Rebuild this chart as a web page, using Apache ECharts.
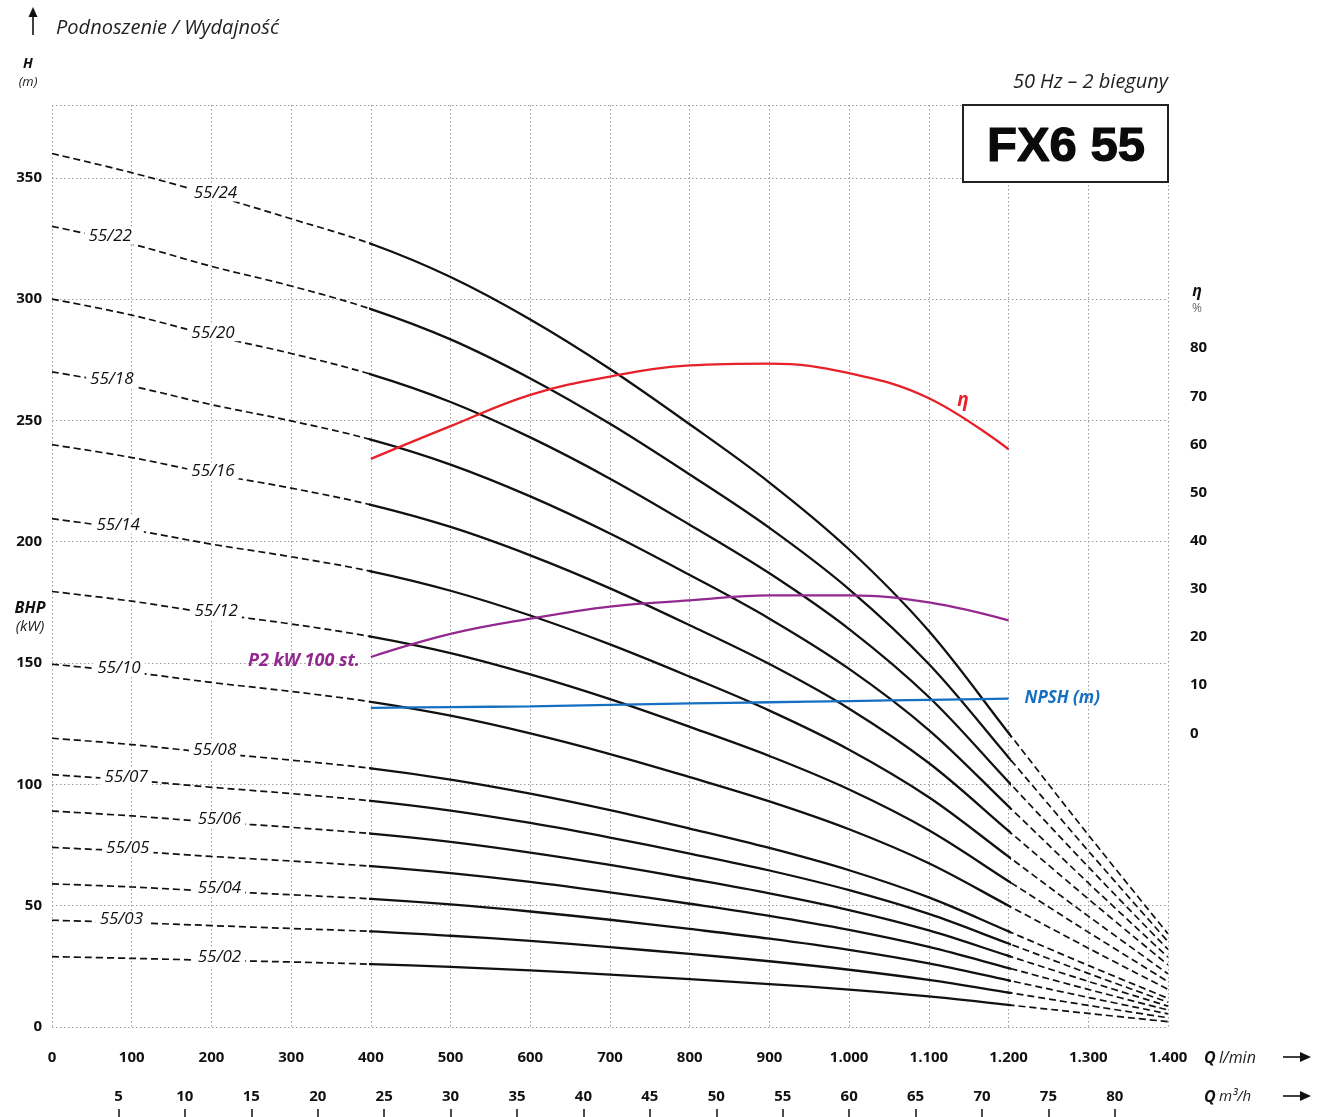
<!DOCTYPE html>
<html><head><meta charset="utf-8">
<script src="https://cdn.jsdelivr.net/npm/echarts@6/dist/echarts.min.js"></script>
<style>html,body{margin:0;padding:0;background:#fff}#c{width:1320px;height:1117px}</style>
</head><body><div id="c"></div>
<script>
// ---- DATA ----
const flowLmin = [0,100,200,300,400,500,600,700,800,900,1000,1100,1200,1300,1400];
const models = ['55/02','55/03','55/04','55/05','55/06','55/07','55/08','55/10','55/12','55/14','55/16','55/18','55/20','55/22','55/24'];
const head_55_02 = [29,28.3,27.5,26.8,25.9,24.8,23.3,21.6,19.7,17.7,15.4,12.6,9.1,5.6,2.2];
const head_55_03 = [44,43,41.8,40.6,39.4,37.6,35.5,32.9,30.1,27.1,23.6,19.4,14.2,8.9,3.8];
const head_55_04 = [59,57.7,56,54.5,52.8,50.5,47.6,44.2,40.4,36.4,31.8,26.2,19.2,12.2,5.4];
const head_55_05 = [74,72.4,70.3,68.4,66.3,63.4,59.8,55.5,50.8,45.8,40,33,24.3,15.5,7];
const head_55_06 = [89,87,84.5,82.3,79.7,76.3,71.9,66.8,61.1,55.1,48.2,39.8,29.3,18.8,8.6];
const head_55_07 = [104,101.7,98.8,96.2,93.2,89.2,84.1,78.1,71.5,64.5,56.4,46.6,34.4,22.1,10.2];
const head_55_08 = [119,116.4,113,110,106.6,102,96.2,89.4,81.8,73.8,64.6,53.4,39.4,25.4,11.8];
const head_55_10 = [149.5,146.2,142,138.3,134,128.3,121,112.5,103,93,81.5,67.5,50,32.5,15.5];
const head_55_12 = [179.5,175.5,170.5,166.1,160.9,154.1,145.3,135.1,123.7,111.7,97.9,81.1,60.1,39.1,18.7];
const head_55_14 = [209.5,204.9,199,193.8,187.8,179.8,169.6,157.7,144.4,130.4,114.3,94.7,70.2,45.7,21.9];
const head_55_16 = [240,234.7,228,222.1,215.2,206.1,194.4,180.8,165.6,149.6,131.2,108.8,80.8,52.8,25.6];
const head_55_18 = [270,264.1,256.5,249.8,242.1,231.8,218.7,203.4,186.3,168.3,147.6,122.4,90.9,59.4,28.8];
const head_55_20 = [300,293.4,285,277.6,269,257.6,243,226,207,187,164,136,101,66,32];
const head_55_22 = [330,322.7,313.5,305.4,295.9,283.4,267.3,248.6,227.7,205.7,180.4,149.6,111.1,72.6,35.2];
const head_55_24 = [360,352.1,343,333.1,322.8,309.1,291.6,271.2,248.4,224.4,196.8,163.2,121.2,79.2,38.4];
const heads = [head_55_02,head_55_03,head_55_04,head_55_05,head_55_06,head_55_07,head_55_08,head_55_10,head_55_12,head_55_14,head_55_16,head_55_18,head_55_20,head_55_22,head_55_24];
const labelQ = [210,87,210,95,210,93,204,84,206,83,202,75,202,73,205];

// operating range (solid part of each curve)
const rangeLmin = [0, 400, 1200, 1400];

const effQ   = [400,500,600,700,800,900,1000,1100,1200];
const effPct = [57,63.8,70.3,74.1,76.4,76.8,74.8,69.6,59];
const p2Q    = [400,500,600,700,800,900,1000,1100,1200];
const p2kW   = [152.5,162,168.3,173.3,175.8,177.9,177.9,175,167.6];
const npshQ  = [400,500,600,700,800,900,1000,1100,1200];
const npshM  = [5.3,5.45,5.6,5.9,6.2,6.45,6.7,6.95,7.2];

const m3hTicks = [5,10,15,20,25,30,35,40,45,50,55,60,65,70,75,80];
const etaTicks = [0,10,20,30,40,50,60,70,80];

// ---- BUILD ----
const FONT = '"Open Sans", "Noto Sans", sans-serif';
const G_LEFT = 52, G_RIGHT = 152, G_TOP = 105, G_BOTTOM = 90, W = 1320;
const plotW = W - G_LEFT - G_RIGHT;
const xMin = rangeLmin[0], xMax = rangeLmin[3];
const px = q => G_LEFT + (q - xMin) / (xMax - xMin) * plotW;

const grids = [{left:G_LEFT, right:G_RIGHT, top:G_TOP, bottom:G_BOTTOM}];
for (let s=0; s<3; s++){
  grids.push({left:px(rangeLmin[s]), width:px(rangeLmin[s+1])-px(rangeLmin[s]), top:G_TOP, bottom:G_BOTTOM});
}
const dashStyle = {color:'#111', width:1.7, type:[7,4]};
const solidStyle = {color:'#111', width:2.3};
const segLine = [dashStyle, solidStyle, dashStyle];

const series = [];
heads.forEach((h) => {
  const pts = flowLmin.map((q,i)=>[q,h[i]]);
  for (let s=0; s<3; s++){
    series.push({type:'line', xAxisIndex:2+s, yAxisIndex:2+s, data:pts, smooth:0.35, clip:true,
      showSymbol:false, lineStyle:segLine[s], silent:true, z:3});
  }
});
function interp(h, q){
  for (let i=0;i<flowLmin.length-1;i++){
    if (q>=flowLmin[i] && q<=flowLmin[i+1]){
      const t=(q-flowLmin[i])/(flowLmin[i+1]-flowLmin[i]);
      return h[i]+(h[i+1]-h[i])*t;
    }
  }
  return h[0];
}
series.push({
  type:'scatter', symbolSize:0, silent:true, z:6, itemStyle:{opacity:1},
  data: heads.map((h,k)=>({value:[labelQ[k], interp(h,labelQ[k])], name:models[k]})),
  label:{show:true, position:'inside', offset:[0,-3], formatter:p=>p.name, fontStyle:'italic', fontSize:17,
    fontWeight:500, fontFamily:FONT, color:'#111', backgroundColor:'#fff', padding:[0,4], opacity:1}
});
series.push({type:'line', yAxisIndex:1, data:effQ.map((q,i)=>[q,effPct[i]]), smooth:0.4, showSymbol:false,
  lineStyle:{color:'#e8202a', width:2.3}, silent:true, z:4});
series.push({type:'line', data:p2Q.map((q,i)=>[q,p2kW[i]]), smooth:0.4, showSymbol:false,
  lineStyle:{color:'#93298f', width:2.3}, silent:true, z:4});
series.push({type:'line', yAxisIndex:1, data:npshQ.map((q,i)=>[q,npshM[i]]), smooth:0.3, showSymbol:false,
  lineStyle:{color:'#1670c2', width:2.3}, silent:true, z:4,
  endLabel:{show:true, formatter:'NPSH (m)', distance:16, fontStyle:'italic', fontWeight:'bold',
    fontSize:17, fontFamily:FONT, color:'#1670c2'}});

const gridLine = {show:true, lineStyle:{color:'#9c9c9c', width:1, type:[1.5,2.5]}};
const tickFont = {fontWeight:'bold', fontSize:15, fontFamily:FONT, color:'#111'};

const xAxes = [
  {gridIndex:0, type:'value', min:xMin, max:xMax, interval:100, position:'bottom',
   axisLine:{show:false, onZero:false}, axisTick:{show:false}, splitLine:gridLine,
   axisLabel:Object.assign({margin:23, formatter:v=> v>=1000 ? Math.floor(v/1000)+'.'+String(v%1000).padStart(3,'0') : String(v)}, tickFont)},
  {gridIndex:0, type:'value', min:0, max:xMax*0.06, position:'bottom', offset:82,
   axisLine:{show:false, onZero:false}, splitLine:{show:false},
   axisTick:{show:true, customValues:m3hTicks, length:8, lineStyle:{color:'#111', width:1.5}},
   axisLabel:Object.assign({inside:true, margin:5, customValues:m3hTicks}, tickFont)}
];
const yAxes = [
  {gridIndex:0, type:'value', min:0, max:380, interval:50, position:'left',
   axisLine:{show:false, onZero:false}, axisTick:{show:false}, splitLine:gridLine,
   axisLabel:Object.assign({margin:10, formatter:v=> v>350 ? '' : String(v)}, tickFont)},
  {gridIndex:0, type:'value', min:-61, max:130.5, position:'right',
   axisLine:{show:false, onZero:false}, axisTick:{show:false}, splitLine:{show:false},
   axisLabel:Object.assign({margin:22, customValues:etaTicks}, tickFont)}
];
for (let s=0; s<3; s++){
  xAxes.push({gridIndex:1+s, type:'value', min:rangeLmin[s], max:rangeLmin[s+1], show:false});
  yAxes.push({gridIndex:1+s, type:'value', min:0, max:380, show:false});
}

const option = {
  animation:false,
  backgroundColor:'#fff',
  grid:grids,
  xAxis:xAxes,
  yAxis:yAxes,
  series:series,
  graphic:[
    {type:'line', shape:{x1:33,y1:35,x2:33,y2:14}, style:{stroke:'#111', lineWidth:1.6}, z:10},
    {type:'polygon', shape:{points:[[28.5,17],[33,7],[37.5,17]]}, style:{fill:'#111'}, z:10},
    {type:'text', x:56, y:28, z:10, style:{text:'Podnoszenie / Wydajność', font:'italic 20px '+FONT, fill:'#222', align:'left', verticalAlign:'middle'}},
    {type:'text', x:28, y:64, z:10, style:{text:'H', font:'italic bold 14px '+FONT, fill:'#111', align:'center', verticalAlign:'middle'}},
    {type:'text', x:28, y:82, z:10, style:{text:'(m)', font:'italic 13px '+FONT, fill:'#222', align:'center', verticalAlign:'middle'}},
    {type:'text', x:30, y:608, z:10, style:{text:'BHP', font:'italic bold 16px '+FONT, fill:'#111', align:'center', verticalAlign:'middle'}},
    {type:'text', x:30, y:627, z:10, style:{text:'(kW)', font:'italic 15px '+FONT, fill:'#222', align:'center', verticalAlign:'middle'}},
    {type:'text', x:1168, y:82, z:10, style:{text:'50 Hz – 2 bieguny', font:'italic 20px '+FONT, fill:'#222', align:'right', verticalAlign:'middle'}},
    {type:'rect', shape:{x:963, y:105, width:205, height:77}, style:{fill:'#fff', stroke:'#222', lineWidth:2}, z:20},
    {type:'text', x:1066, y:147, z:21, style:{text:'FX6 55', font:'bold 49px "Liberation Sans", Arial, sans-serif', fill:'#0a0a0a', stroke:'#0a0a0a', lineWidth:1.2, align:'center', verticalAlign:'middle'}},
    {type:'text', x:1197, y:291, z:10, style:{text:'η', font:'italic bold 16px '+FONT, fill:'#111', align:'center', verticalAlign:'middle'}},
    {type:'text', x:1197, y:309, z:10, style:{text:'%', font:'12px '+FONT, fill:'#666', align:'center', verticalAlign:'middle'}},
    {type:'text', x:963, y:401, z:10, style:{text:'η', font:'italic bold 19px '+FONT, fill:'#e8202a', align:'center', verticalAlign:'middle'}},
    {type:'text', x:360, y:661, z:10, style:{text:'P2 kW 100 st.', font:'italic bold 18px '+FONT, fill:'#93298f', align:'right', verticalAlign:'middle'}},
    {type:'text', x:1204, y:1058, z:10, style:{text:'{q|Q} {u|l/min}', align:'left', verticalAlign:'middle',
      rich:{q:{font:'italic bold 16px '+FONT, fill:'#111'}, u:{font:'italic 16px '+FONT, fill:'#222'}}}},
    {type:'line', shape:{x1:1283,y1:1057,x2:1302,y2:1057}, style:{stroke:'#111', lineWidth:1.6}, z:10},
    {type:'polygon', shape:{points:[[1300,1052],[1311,1057],[1300,1062]]}, style:{fill:'#111'}, z:10},
    {type:'text', x:1204, y:1097, z:10, style:{text:'{q|Q} {u|m³/h}', align:'left', verticalAlign:'middle',
      rich:{q:{font:'italic bold 16px '+FONT, fill:'#111'}, u:{font:'italic 15px '+FONT, fill:'#222'}}}},
    {type:'line', shape:{x1:1283,y1:1096,x2:1302,y2:1096}, style:{stroke:'#111', lineWidth:1.6}, z:10},
    {type:'polygon', shape:{points:[[1300,1091],[1311,1096],[1300,1101]]}, style:{fill:'#111'}, z:10}
  ]
};
const chart = echarts.init(document.getElementById('c'), null, {renderer:'canvas'});
chart.setOption(option);
</script></body></html>
